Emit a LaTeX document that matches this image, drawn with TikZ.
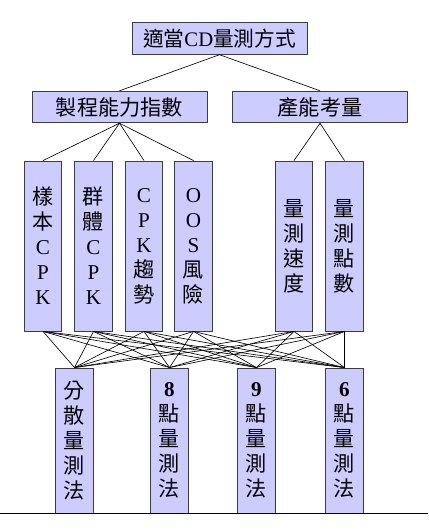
\documentclass[tikz,border=0pt]{standalone}
\usepackage{fontspec}
\setmainfont{Liberation Serif}
\newfontfamily\cjk{Noto Sans CJK TC}
\usetikzlibrary{positioning}
\definecolor{lav}{RGB}{204,204,255}
\definecolor{rim}{RGB}{60,60,70}
\newcommand{\lat}[1]{{\rmfamily #1}}

\begin{document}
\begin{tikzpicture}[
  x=0.025cm, y=-0.025cm,
  hd/.style={draw=rim, fill=lav, line width=0.6pt, inner sep=0pt,
    minimum width=4.375cm, minimum height=0.79cm,
    font=\fontsize{#1}{#1}\selectfont\cjk},
  col/.style={draw=rim, fill=lav, line width=0.6pt, inner sep=0pt,
    minimum width=0.94cm, minimum height=#1, align=center,
    font=\fontsize{15}{17.8}\selectfont\cjk},
  wire/.style={line width=0.45pt, draw=black}]

\useasboundingbox (0,0) rectangle (428,531);

% top and second level
\node[hd=14.7] (goal) at (219.5,38.5) {適當\lat{CD}量測方式};
\node[hd=15.1] (cpk)  at (119.5,107)  {製程能力指數};
\node[hd=15.1] (cap)  at (320,107)    {產能考量};

% criteria
\node[col=4.25cm] (smp) at (43,246)    {樣\\本\\\lat{C}\\\lat{P}\\\lat{K}};
\node[col=4.25cm] (pop) at (93.5,246)  {群\\體\\\lat{C}\\\lat{P}\\\lat{K}};
\node[col=4.25cm] (trd) at (144,246)   {\lat{C}\\\lat{P}\\\lat{K}\\趨\\勢};
\node[col=4.25cm] (oos) at (193.5,246) {\lat{O}\\\lat{O}\\\lat{S}\\風\\險};
\node[col=4.25cm] (spd) at (294,246)   {量\\測\\速\\度};
\node[col=4.25cm] (pts) at (344.5,246) {量\\測\\點\\數};

% alternatives
\node[col=3.625cm] (dsp) at (74.5,440.5)  {分\\散\\量\\測\\法};
\node[col=3.625cm] (p8)  at (169.5,440.5) {\lat{\textbf{8}}\\點\\量\\測\\法};
\node[col=3.625cm] (p9)  at (256.5,440.5) {\lat{\textbf{9}}\\點\\量\\測\\法};
\node[col=3.625cm] (p6)  at (344.5,440.5) {\lat{\textbf{6}}\\點\\量\\測\\法};

% links
\draw[wire] (goal.south) -- (cpk.north);
\draw[wire] (goal.south) -- (cap.north);
\foreach \c in {smp,pop,trd,oos}
  \draw[wire] (cpk.south) -- (\c.north);
\foreach \c in {spd,pts}
  \draw[wire] (cap.south) -- (\c.north);
\foreach \c in {smp,pop,trd,oos,spd,pts}
  \foreach \m in {dsp,p8,p9,p6}
    \draw[wire] (\c.south) -- (\m.north);

% base line
\draw[line width=1.3pt] (0,513.5) -- (428,513.5);

\end{tikzpicture}
\end{document}
